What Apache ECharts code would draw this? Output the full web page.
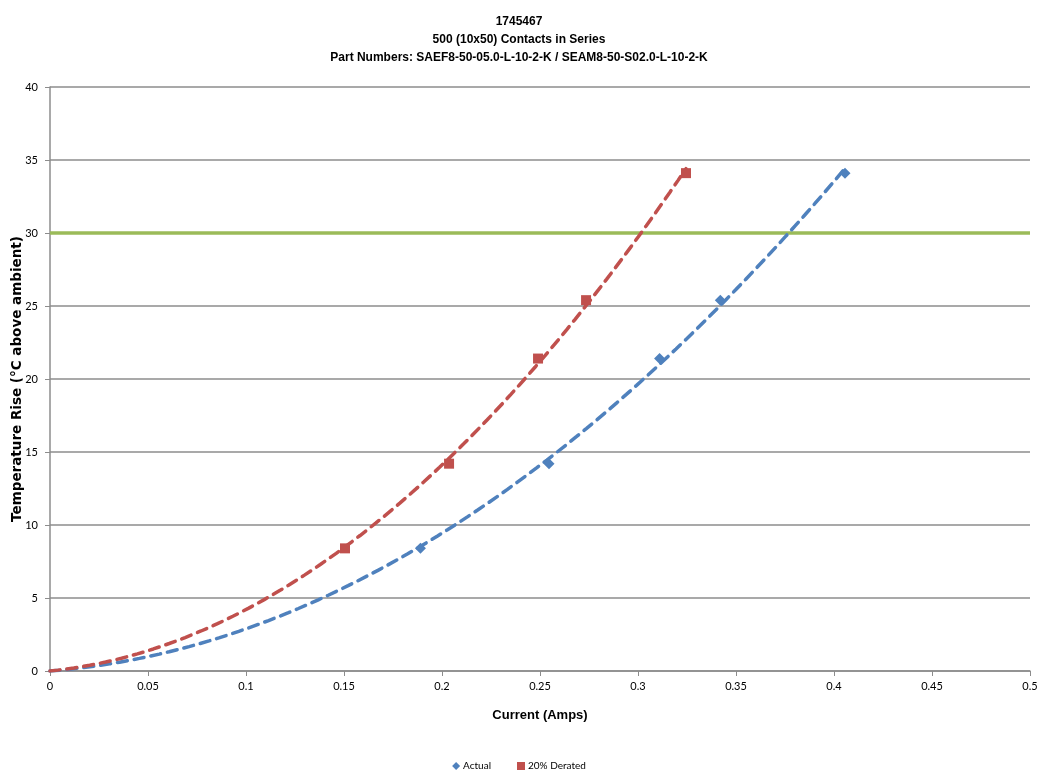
<!DOCTYPE html>
<html>
<head>
<meta charset="utf-8">
<script src="https://cdn.jsdelivr.net/npm/echarts@6/dist/echarts.min.js"></script>
<style>
  html, body { margin: 0; padding: 0; background: #fff; }
  #chart { width: 1038px; height: 772px; }
</style>
</head>
<body>
<div id="chart"></div>
<script>
// Measured current (A) vs temperature rise (°C above ambient)
const actualCurrent = [0.189, 0.2546, 0.311, 0.342, 0.4056];
const actualRise    = [8.4, 14.2, 21.4, 25.4, 34.1];
// Same rises at 80% of the measured current
const deratedCurrent = [0.1505, 0.2036, 0.249, 0.2735, 0.3245];
const deratedRise    = [8.4, 14.2, 21.4, 25.4, 34.1];
// Rated temperature-rise limit
const limitRise = 30;

const xTicks = { min: 0, max: 0.5, step: 0.05 };
const yTicks = { min: 0, max: 40, step: 5 };

// Least-squares fit T = a*I^2 + b*I (second-order polynomial through origin)
function polyFit(xs, ys) {
  let s4 = 0, s3 = 0, s2 = 0, sy2 = 0, sy1 = 0;
  for (let i = 0; i < xs.length; i++) {
    const x = xs[i], y = ys[i];
    s4 += x ** 4; s3 += x ** 3; s2 += x ** 2;
    sy2 += y * x * x; sy1 += y * x;
  }
  const det = s4 * s2 - s3 * s3;
  const a = (sy2 * s2 - s3 * sy1) / det;
  const b = (s4 * sy1 - s3 * sy2) / det;
  return x => a * x * x + b * x;
}
function trendPoints(xs, ys) {
  const f = polyFit(xs, ys);
  const xMax = Math.max(...xs);
  const pts = [];
  const n = 80;
  for (let i = 0; i <= n; i++) {
    const x = xMax * i / n;
    pts.push([x, f(x)]);
  }
  return pts;
}

const zip = (xs, ys) => xs.map((x, i) => [x, ys[i]]);

const BLUE = '#4f81bd', RED = '#c0504d', GREEN = '#9bbb59', GRID = '#8c8c8c';
const NARROW = '"Liberation Sans Narrow", "Liberation Sans", Arial, sans-serif';
const BODY = 'Lato, "Open Sans", sans-serif';

const chart = echarts.init(document.getElementById('chart'), null, { renderer: 'canvas' });
chart.setOption({
  animation: false,
  backgroundColor: '#fff',
  title: {
    text: '1745467\n500 (10x50) Contacts in Series\nPart Numbers: SAEF8-50-05.0-L-10-2-K / SEAM8-50-S02.0-L-10-2-K',
    left: 'center',
    top: 8,
    textStyle: { fontFamily: NARROW, fontWeight: 'bold', fontSize: 12, lineHeight: 18, color: '#000' }
  },
  legend: {
    top: 756,
    left: 'center',
    itemGap: 26,
    itemWidth: 8,
    itemHeight: 8,
    textStyle: { fontFamily: BODY, fontSize: 10, color: '#000', padding: [0, 0, 0, -2] },
    data: [
      { name: 'Actual', icon: 'diamond' },
      { name: '20% Derated', icon: 'rect' }
    ]
  },
  grid: { left: 50, right: 8, top: 87, bottom: 101, outerBoundsMode: 'none', containLabel: false },
  xAxis: {
    type: 'value',
    min: xTicks.min, max: xTicks.max, interval: xTicks.step,
    name: 'Current (Amps)',
    nameLocation: 'middle',
    nameGap: 38,
    nameMoveOverlap: false,
    nameTextStyle: { fontFamily: NARROW, fontWeight: 'bold', fontSize: 13, color: '#000' },
    axisLine: { lineStyle: { color: GRID, width: 1.5 } },
    axisTick: { show: true, length: 5, lineStyle: { color: GRID } },
    axisLabel: {
      fontFamily: BODY, fontSize: 11, color: '#000', margin: 10,
      formatter: v => String(Math.round(v * 100) / 100)
    },
    splitLine: { show: false }
  },
  yAxis: {
    type: 'value',
    min: yTicks.min, max: yTicks.max, interval: yTicks.step,
    name: 'Temperature Rise (°C above ambient)',
    nameLocation: 'middle',
    nameGap: 26,
    nameMoveOverlap: false,
    nameTextStyle: { fontFamily: '"DejaVu Sans", Verdana, sans-serif', fontWeight: 'bold', fontSize: 13.5, color: '#000' },
    axisLine: { show: true, lineStyle: { color: GRID, width: 1.5 } },
    axisTick: { show: true, length: 5, lineStyle: { color: GRID } },
    axisLabel: { fontFamily: BODY, fontSize: 11, color: '#000', margin: 12 },
    splitLine: { show: true, lineStyle: { color: GRID, width: 1.5 } }
  },
  series: [
    {
      name: 'limit', type: 'line', silent: true, symbol: 'none',
      data: [[xTicks.min, limitRise], [xTicks.max, limitRise]],
      lineStyle: { color: GREEN, width: 3.5 }, z: 2
    },
    {
      name: 'Actual trend', type: 'line', silent: true, symbol: 'none', smooth: false,
      data: trendPoints(actualCurrent, actualRise),
      lineStyle: { color: BLUE, width: 3.5, type: [10, 7], cap: 'round' }, z: 3
    },
    {
      name: 'Derated trend', type: 'line', silent: true, symbol: 'none', smooth: false,
      data: trendPoints(deratedCurrent, deratedRise),
      lineStyle: { color: RED, width: 3.5, type: [10, 7], cap: 'round' }, z: 3
    },
    {
      name: 'Actual', type: 'scatter', symbol: 'diamond', symbolSize: 11,
      itemStyle: { color: BLUE, opacity: 1 }, data: zip(actualCurrent, actualRise), z: 4
    },
    {
      name: '20% Derated', type: 'scatter', symbol: 'rect', symbolSize: 10,
      itemStyle: { color: RED, opacity: 1 }, data: zip(deratedCurrent, deratedRise), z: 4
    }
  ]
});
</script>
</body>
</html>
